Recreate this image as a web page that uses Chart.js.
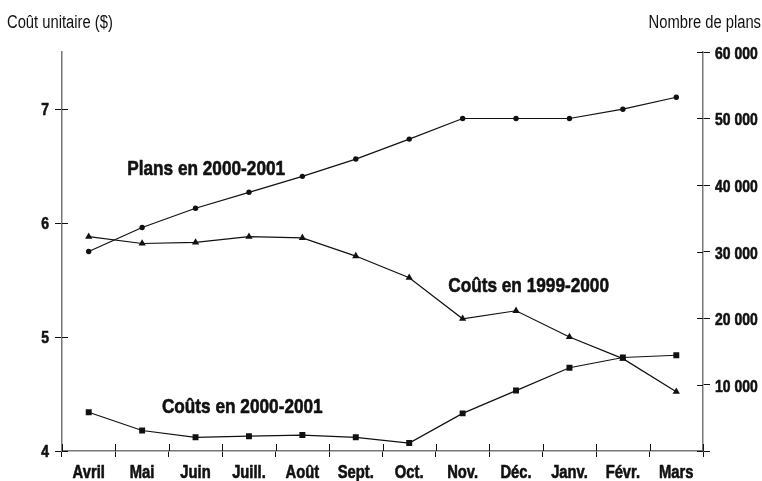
<!DOCTYPE html>
<html>
<head>
<meta charset="utf-8">
<script src="https://cdn.jsdelivr.net/npm/chart.js@4/dist/chart.umd.min.js"></script>
<style>
  html, body { margin: 0; padding: 0; background: #fff; }
  #wrap { width: 762px; height: 481px; position: relative; }
</style>
</head>
<body>
<div id="wrap"><canvas id="chart"></canvas></div>
<script>
(function(){
    "use strict";

    // Data
    const months = ['Avril', 'Mai', 'Juin', 'Juill.', 'Août', 'Sept.', 'Oct.', 'Nov.', 'Déc.', 'Janv.', 'Févr.', 'Mars'];
    const plans20002001 = [30000, 33600, 36500, 38900, 41300, 43900, 46900, 50000, 50000, 50000, 51400, 53200];
    const couts19992000 = [5.88, 5.82, 5.83, 5.88, 5.87, 5.71, 5.52, 5.16, 5.23, 5.00, 4.81, 4.52];
    const couts20002001 = [4.34, 4.18, 4.12, 4.13, 4.14, 4.12, 4.07, 4.33, 4.53, 4.73, 4.82, 4.84];
    const costTicks = [4, 5, 6, 7];
    const planTicks = [0, 10000, 20000, 30000, 40000, 50000, 60000];

    // No condensed face is installed, so text is squeezed horizontally
    const FONT = '"Liberation Sans", Arial, sans-serif';
    const SQUEEZE = 0.82;
    const INK = '#111';
    const AXIS = '#777';

    // Series labels placed in data space (category index, value on left axis), left/baseline anchored
    const seriesLabels = [
        { text: 'Plans en 2000-2001', x: 0.72, y: 6.42 },
        { text: 'Coûts en 1999-2000', x: 6.73, y: 5.395 },
        { text: 'Coûts en 2000-2001', x: 1.37, y: 4.333 }
    ];

    function fmtThousands(v) {
        return String(v).replace(/\B(?=(\d{3})+(?!\d))/g, ' ');
    }

    // heavy = thin outline on top of the fill, to get closer to the black condensed face
    function squeezedText(ctx, text, px, py, align, heavy) {
        ctx.save();
        ctx.translate(px, py);
        ctx.scale(SQUEEZE, 1);
        ctx.textAlign = align;
        ctx.textBaseline = 'alphabetic';
        ctx.fillText(text, 0, 0);
        if (heavy) {
            ctx.lineWidth = 0.6;
            ctx.lineJoin = 'round';
            ctx.strokeText(text, 0, 0);
        }
        ctx.restore();
    }

    // Inner half of tick marks, tick labels, axis titles and series labels
    const decorations = {
        id: 'decorations',
        afterDraw(chart) {
            const ctx = chart.ctx;
            const {x, y, y2} = chart.scales;
            const area = chart.chartArea;
            ctx.save();
            ctx.strokeStyle = INK;
            ctx.fillStyle = INK;
            ctx.lineWidth = 1;

            // left axis: ticks crossing the line, bold labels
            ctx.font = 'bold 17px ' + FONT;
            costTicks.forEach(v => {
                const py = Math.round(y.getPixelForValue(v)) + 0.5;
                ctx.beginPath();
                ctx.moveTo(area.left, py);
                ctx.lineTo(area.left + 6, py);
                ctx.stroke();
                squeezedText(ctx, String(v), area.left - 13, py + 5, 'right', true);
            });
            // right axis
            planTicks.forEach(v => {
                const py = Math.round(y2.getPixelForValue(v)) + 0.5;
                ctx.beginPath();
                ctx.moveTo(area.right - 6, py);
                ctx.lineTo(area.right, py);
                ctx.stroke();
                if (v !== 0) {
                    squeezedText(ctx, fmtThousands(v), area.right + 12, py + 6, 'left', true);
                }
            });
            // bottom axis: ticks between months, labels under each month
            const step = (x.right - x.left) / months.length;
            for (let i = 0; i <= months.length; i++) {
                const px = Math.round(x.left + i * step) + 0.5;
                ctx.beginPath();
                ctx.moveTo(px, area.bottom - 7);
                ctx.lineTo(px, area.bottom);
                ctx.stroke();
            }
            ctx.font = 'bold 18px ' + FONT;
            months.forEach((m, i) => {
                squeezedText(ctx, m, x.getPixelForValue(i), area.bottom + 27, 'center', true);
            });

            // axis titles
            ctx.font = '18px ' + FONT;
            squeezedText(ctx, 'Coût unitaire ($)', 7, 28, 'left', false);
            squeezedText(ctx, 'Nombre de plans', 761, 28, 'right', false);

            // series labels
            ctx.font = 'bold 21px ' + FONT;
            seriesLabels.forEach(l => {
                squeezedText(ctx, l.text, x.getPixelForValue(l.x), y.getPixelForValue(l.y), 'left', true);
            });
            ctx.restore();
        }
    };

    function lineSet(label, data, axis, style, radius) {
        return {
            label: label,
            data: data,
            yAxisID: axis,
            borderColor: INK,
            backgroundColor: INK,
            borderWidth: 1.2,
            pointStyle: style,
            pointRadius: radius,
            pointBorderWidth: 0,
            tension: 0,
            fill: false
        };
    }

    const hiddenTicks = { color: 'rgba(0,0,0,0)', autoSkip: false, maxRotation: 0 };

    function init() {
        const ctx = document.getElementById('chart').getContext('2d');
        new Chart(ctx, {
            type: 'line',
            data: {
                labels: months,
                datasets: [
                    lineSet('Plans en 2000-2001', plans20002001, 'y2', 'circle', 2.7),
                    lineSet('Coûts en 1999-2000', couts19992000, 'y', 'triangle', 4.2),
                    lineSet('Coûts en 2000-2001', couts20002001, 'y', 'rect', 4.2)
                ]
            },
            options: {
                responsive: true,
                maintainAspectRatio: false,
                animation: false,
                layout: { padding: { top: 52, left: 0, right: 0, bottom: 0 } },
                plugins: {
                    legend: { display: false },
                    tooltip: { enabled: false }
                },
                scales: {
                    x: {
                        offset: true,
                        grid: { drawOnChartArea: false, drawTicks: true, tickLength: 6, tickColor: INK, offset: true },
                        border: { color: AXIS, width: 1.5 },
                        ticks: hiddenTicks,
                        afterFit: s => { s.height = 30; }
                    },
                    y: {
                        position: 'left',
                        min: 4,
                        max: 7.5,
                        afterBuildTicks: s => { s.ticks = costTicks.map(v => ({ value: v })); },
                        grid: { drawOnChartArea: false, drawTicks: true, tickLength: 7, tickColor: INK },
                        border: { color: AXIS, width: 1.5 },
                        ticks: hiddenTicks,
                        afterFit: s => { s.width = 62; }
                    },
                    y2: {
                        position: 'right',
                        min: 0,
                        max: 60000,
                        afterBuildTicks: s => { s.ticks = planTicks.map(v => ({ value: v })); },
                        grid: { drawOnChartArea: false, drawTicks: true, tickLength: 7, tickColor: INK },
                        border: { color: AXIS, width: 1.5 },
                        ticks: hiddenTicks,
                        afterFit: s => { s.width = 59; }
                    }
                }
            },
            plugins: [decorations]
        });
    }

    init();
})();
</script>
</body>
</html>
